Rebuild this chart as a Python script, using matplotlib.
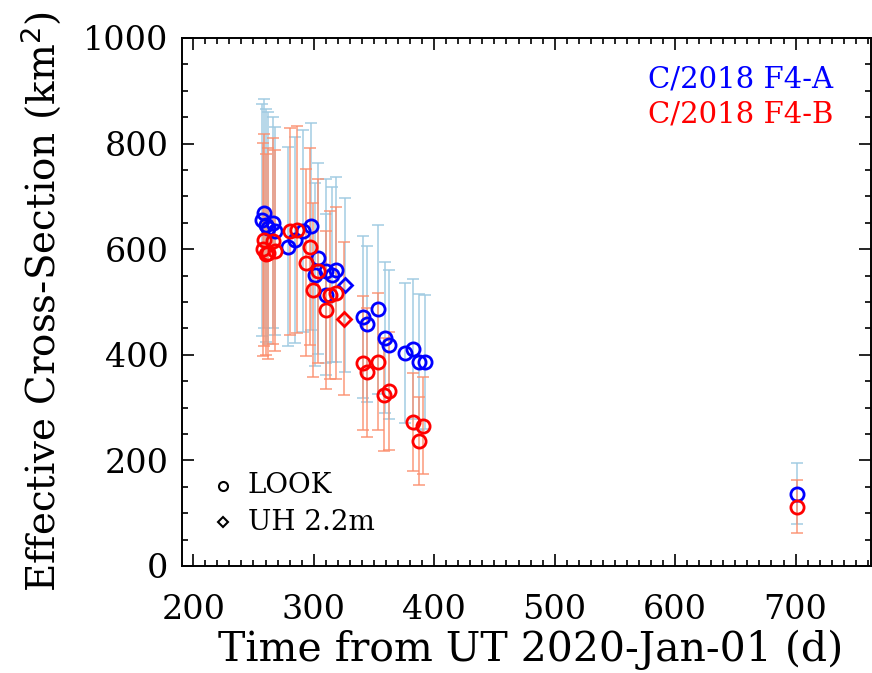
import numpy as np
import matplotlib
matplotlib.use("Agg")
import matplotlib.pyplot as plt
from matplotlib.ticker import MultipleLocator

plt.rcParams['font.family'] = ['DejaVu Serif']

# C/2018 F4-A, LOOK
a_t = [258.5, 257.0, 260.0, 262.0, 266.3, 267.7, 278.7, 284.3, 291.0, 298.0,
       303.7, 301.0, 310.6, 318.9, 314.8, 310.6, 341.0, 344.0, 353.4, 359.0,
       362.6, 375.6, 382.5, 387.5, 392.0, 701.0]
a_v = [668, 655, 645, 640, 650, 635, 605, 618, 634, 643,
       583, 552, 558, 561, 552, 514, 472, 458, 486, 432,
       419, 403, 411, 387, 387, 137]
a_e = [217, 219, 221, 220, 200, 197, 189, 195, 191, 196,
       181, 174, 174, 175, 166, 153, 153, 148, 160, 143,
       141, 132, 133, 129, 127, 58]
# C/2018 F4-B, LOOK
b_t = [258.5, 266.5, 257.5, 262.0, 268.0, 260.0, 280.0, 285.7, 296.7, 293.4,
       303.7, 299.5, 313.3, 318.3, 309.8, 341.0, 344.0, 353.4, 358.0, 362.3,
       382.5, 390.8, 387.5, 701.0]
b_v = [618, 615, 600, 592, 597, 590, 634, 637, 605, 574,
       558, 523, 514, 517, 485, 385, 367, 387, 324, 332,
       272, 266, 237, 112]
b_e = [201, 195, 202, 200, 190, 190, 196, 196, 186, 177,
       174, 165, 159, 162, 150, 127, 122, 130, 107, 112,
       93, 92, 83, 50]
# UH 2.2m
uh_t = [325.8, 325.2]
uh_v = [532, 468]
uh_e = [164, 145]

fig = plt.figure(figsize=(8.72, 6.73), dpi=100)
ax = fig.add_axes([0.2092, 0.159, 0.7902, 0.7846])

ebkw = dict(fmt='none', elinewidth=1.3, capsize=4, capthick=1.3)
ax.errorbar(a_t, a_v, yerr=a_e, ecolor='#9ecae1', alpha=0.8, **ebkw)
ax.errorbar(uh_t[:1], uh_v[:1], yerr=uh_e[:1], ecolor='#9ecae1', alpha=0.8, **ebkw)
ax.errorbar(b_t, b_v, yerr=b_e, ecolor='#fc8d6b', alpha=0.75, **ebkw)
ax.errorbar(uh_t[1:], uh_v[1:], yerr=uh_e[1:], ecolor='#fc8d6b', alpha=0.75, **ebkw)

mk = dict(linestyle='none', markerfacecolor='none', markeredgewidth=2)
ax.plot(a_t, a_v, marker='o', markersize=9.5, markeredgecolor='#0000ff', **mk)
ax.plot(uh_t[:1], uh_v[:1], marker='D', markersize=7, markeredgecolor='#0000ff', **mk)
ax.plot(b_t, b_v, marker='o', markersize=9.5, markeredgecolor='#ff0000', **mk)
ax.plot(uh_t[1:], uh_v[1:], marker='D', markersize=7, markeredgecolor='#ff0000', **mk)

ax.set_xlim(191, 763)
ax.set_ylim(0, 1000)
ax.xaxis.set_major_locator(MultipleLocator(100))
ax.xaxis.set_minor_locator(MultipleLocator(10))
ax.yaxis.set_major_locator(MultipleLocator(200))
ax.yaxis.set_minor_locator(MultipleLocator(50))
ax.tick_params(which='both', direction='in', top=True, right=True, width=1.2)
ax.tick_params(which='major', length=8.5)
ax.tick_params(which='minor', length=4.5)
ax.tick_params(axis='x', which='major', pad=20, labelsize=24)
ax.tick_params(axis='y', which='major', pad=10, labelsize=24)
for s in ax.spines.values():
    s.set_linewidth(1.4)

ax.set_xlabel('Time from UT 2020-Jan-01 (d)', fontsize=29.5, va='center')
ax.set_ylabel('Effective Cross-Section (km$^2$)', fontsize=28, va='center')
ax.xaxis.set_label_coords(0.506, -0.159)
ax.yaxis.set_label_coords(-0.206, 0.50)

# comet labels
ax.text(0.945, 0.921, 'C/2018 F4-A', color='#0000ff', fontsize=21,
        ha='right', va='center', transform=ax.transAxes)
ax.text(0.945, 0.855, 'C/2018 F4-B', color='#ff0000', fontsize=21,
        ha='right', va='center', transform=ax.transAxes)

# telescope legend
ax.plot([0.059], [0.1515], marker='o', markersize=6.5, markerfacecolor='none',
        markeredgecolor='k', markeredgewidth=1.5, transform=ax.transAxes)
ax.plot([0.059], [0.0833], marker='D', markersize=5, markerfacecolor='none',
        markeredgecolor='k', markeredgewidth=1.5, transform=ax.transAxes)
ax.text(0.095, 0.1515, 'LOOK', fontsize=20, va='center', transform=ax.transAxes)
ax.text(0.095, 0.0833, 'UH 2.2m', fontsize=20, va='center', transform=ax.transAxes)

fig.savefig('out.png', dpi=100)
